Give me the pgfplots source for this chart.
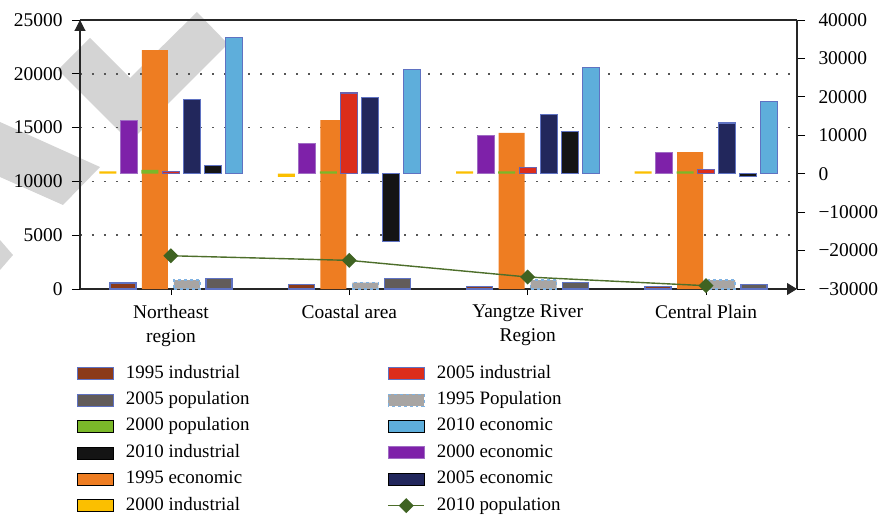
\documentclass[border=0pt]{standalone}
\usepackage{fontspec}
\setmainfont{Liberation Serif}
\usepackage{pgfplots}
\pgfplotsset{compat=1.18}
\usetikzlibrary{arrows.meta}
\definecolor{cBrown}{HTML}{8B3A1A}
\definecolor{cOrange}{HTML}{EE7D22}
\definecolor{cGrayPop}{HTML}{A8A5A3}
\definecolor{cDarkGray}{HTML}{625C5A}
\definecolor{cGreen}{HTML}{7AB829}
\definecolor{cYellow}{HTML}{FBBF00}
\definecolor{cPurple}{HTML}{7E21A9}
\definecolor{cPurpleB}{HTML}{A06CC4}
\definecolor{cRed}{HTML}{DC2D1B}
\definecolor{cRedB}{HTML}{6B63B0}
\definecolor{cNavy}{HTML}{22275C}
\definecolor{cBlack}{HTML}{141414}
\definecolor{cLightBlue}{HTML}{5EAEDB}
\definecolor{cBorder}{HTML}{5F72C2}
\definecolor{cDash}{HTML}{7FB2E2}
\definecolor{cLine}{HTML}{4D6E2A}
\definecolor{cMark}{HTML}{3F6322}
\definecolor{cGrid}{HTML}{555555}
\definecolor{cWater}{HTML}{D4D4D4}
\pgfplotsset{
  barleg/.style={legend image code/.code={\draw[##1] (0bp,-6bp) rectangle (36bp,6bp);}},
  popleg/.style={legend image code/.code={\draw[mark repeat=2,mark phase=2,##1] plot coordinates {(0bp,0bp) (18bp,0bp) (36bp,0bp)};}},
  common/.style={scale only axis, width=717bp, height=269bp, xmin=-0.51, xmax=3.51,
    scaled y ticks=false,
    tick align=outside, major tick length=8bp,
    tick style={black, line width=0.8bp},
    axis line style={line width=1.1bp, black!85},
    xticklabel style={font=\fontsize{19.5}{24.5}\selectfont, align=center, yshift=-4bp}},
  lbar/.style={ybar, bar width=26bp, bar shift=#1, forget plot},
  rbar/.style={ybar, bar width=17bp, bar shift=#1, forget plot}
}
\begin{document}
\begin{tikzpicture}
% light watermark shapes of the reference (pixel coords -> (x-80, 289-y))
\fill[cWater] (-80bp,167bp) -- (20bp,122bp) -- (-17bp,84bp) -- (-80bp,112bp) -- cycle;
\fill[cWater] (-80bp,49bp) -- (-67bp,34bp) -- (-80bp,19bp) -- cycle;
\fill[cWater] (-22bp,219bp) -- (10bp,251bp) -- (50bp,211bp) -- (117bp,277bp) -- (148bp,245bp) -- (50bp,147bp) -- cycle;
\begin{axis}[common, ymin=0, ymax=25000,
  axis x line*=bottom, axis y line*=left,
  x axis line style={-{Triangle[length=10bp,width=12bp]}},
  y axis line style={-{Triangle[length=11bp,width=11bp]}},
  ytick={0,5000,10000,15000,20000,25000},
  yticklabels={0,5000,10000,15000,20000,25000},
  yticklabel style={font=\fontsize{19.5}{23}\selectfont, xshift=-6bp},
  xtick={0,1,2,3},
  xtick style={/pgfplots/major tick length=6bp},
  xticklabels={Northeast\\region,Coastal area,Yangtze River\\Region,Central Plain},
  ymajorgrids, grid style={cGrid, line width=1.6bp, dash pattern=on 1.6bp off 10.4bp},
]
\addplot[lbar=-48bp, fill=cBrown, draw=cBorder, line width=1.2bp] coordinates {(0,560) (1,400) (2,250) (3,250)};
\addplot[lbar=-16bp, fill=cOrange, draw=none] coordinates {(0,22200) (1,15700) (2,14500) (3,12730)};
\addplot[lbar=16bp, fill=cGrayPop, draw=cDash, line width=1.2bp, dashed] coordinates {(0,836) (1,586) (2,836) (3,836)};
\addplot[lbar=48bp, fill=cDarkGray, draw=cBorder, line width=1.2bp] coordinates {(0,994) (1,994) (2,586) (3,400)};
\end{axis}
\begin{axis}[common, ymin=-30000, ymax=40000,
  axis x line*=top, axis y line*=right, xtick=\empty,
  axis line style={-},
  ytick={-30000,-20000,-10000,0,10000,20000,30000,40000},
  yticklabels={−30000,−20000,−10000,0,10000,20000,30000,40000},
  yticklabel style={font=\fontsize{19.5}{23}\selectfont, xshift=10bp},
  legend columns=2,
  legend cell align=left,
  legend style={at={(axis description cs:-0.0042,-0.283)}, anchor=north west,
    draw=none, fill=none, inner sep=0pt, outer sep=0pt,
    font=\fontsize{19}{21}\selectfont,
    nodes={inner sep=0pt, text height=13bp, text depth=4bp},
    row sep=9.4bp,
    /tikz/every odd column/.append style={column sep=12bp},
    /tikz/every even column/.append style={column sep=138bp}},
]
\addplot[rbar=-63bp, fill=cYellow, draw=none] coordinates {(0,600) (1,-800) (2,600) (3,600)};
\addplot[rbar=-42bp, fill=cPurple, draw=cPurpleB, line width=0.8bp] coordinates {(0,13900) (1,7840) (2,10000) (3,5580)};
\addplot[rbar=-21bp, fill=cGreen, draw=none] coordinates {(0,1000) (1,600) (2,600) (3,600)};
\addplot[rbar=0bp, fill=cRed, draw=cRedB, line width=1.2bp] coordinates {(0,600) (1,20990) (2,1610) (3,1100)};
\addplot[rbar=21bp, fill=cNavy, draw=cBorder, line width=1.2bp] coordinates {(0,19270) (1,19870) (2,15450) (3,13200)};
\addplot[rbar=42bp, fill=cBlack, draw=cBorder, line width=1.2bp] coordinates {(0,2200) (1,-17710) (2,10960) (3,-700)};
\addplot[rbar=63bp, fill=cLightBlue, draw=cBorder, line width=1.2bp] coordinates {(0,35380) (1,27060) (2,27660) (3,18830)};
\addplot[forget plot, color=cLine, line width=1.4bp, mark=square*, mark size=4.6bp, mark options={rotate=45, fill=cMark, draw=cMark}] coordinates {(0,-21350) (1,-22550) (2,-26880) (3,-29140)};
\addlegendimage{barleg, fill=cBrown, draw=cBorder, line width=1bp}
\addlegendentry{1995 industrial}
\addlegendimage{barleg, fill=cRed, draw=cBorder, line width=1bp}
\addlegendentry{2005 industrial}
\addlegendimage{barleg, fill=cDarkGray, draw=cBorder, line width=1bp}
\addlegendentry{2005 population}
\addlegendimage{barleg, fill=cGrayPop, draw=cDash, line width=1bp, dashed}
\addlegendentry{1995 Population}
\addlegendimage{barleg, fill=cGreen, draw=none}
\addlegendentry{2000 population}
\addlegendimage{barleg, fill=cLightBlue, draw=none}
\addlegendentry{2010 economic}
\addlegendimage{barleg, fill=cBlack, draw=none}
\addlegendentry{2010 industrial}
\addlegendimage{barleg, fill=cPurple, draw=cPurpleB, line width=0.8bp}
\addlegendentry{2000 economic}
\addlegendimage{barleg, fill=cOrange, draw=none}
\addlegendentry{1995 economic}
\addlegendimage{barleg, fill=cNavy, draw=none}
\addlegendentry{2005 economic}
\addlegendimage{barleg, fill=cYellow, draw=none}
\addlegendentry{2000 industrial}
\addlegendimage{popleg, color=cLine, line width=1.4bp, mark=square*, mark size=4.6bp, mark options={rotate=45, fill=cMark, draw=cMark}}
\addlegendentry{2010 population}
\end{axis}
\pgfresetboundingbox
\path[use as bounding box] (-80bp,-229bp) rectangle (803bp,289bp);
\end{tikzpicture}
\end{document}
